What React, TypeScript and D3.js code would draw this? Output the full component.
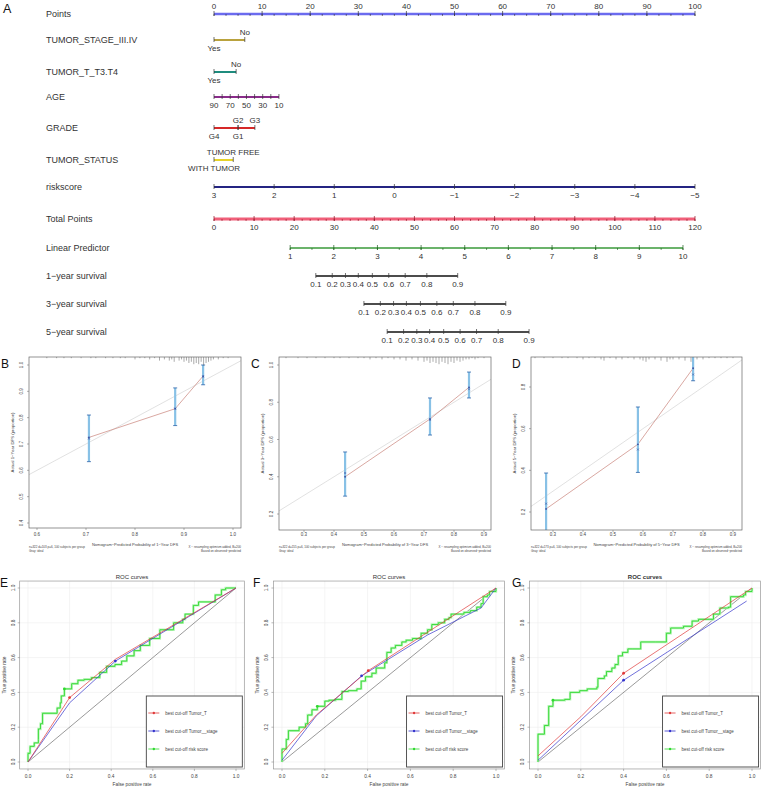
import React from 'react';
import * as d3 from 'd3';

const FONT = 'Liberation Sans, Arial, Helvetica, sans-serif';

// ---------- nomogram (panel A) ----------
const pointTicks = [0, 10, 20, 30, 40, 50, 60, 70, 80, 90, 100];
const stageLevels = ['Yes', 'No'];
const stagePoints = [0, 6.4];
const tLevels = ['Yes', 'No'];
const tPoints = [0, 4.6];
const ageTicks = [90, 80, 70, 60, 50, 40, 30, 20, 10];
const ageLabels = [90, 70, 50, 30, 10];
const gradeLevels = ['G4', 'G2', 'G1', 'G3'];
const gradePoints = [0, 5, 5, 8.5];
const statusLevels = ['WITH TUMOR', 'TUMOR FREE'];
const statusPoints = [0, 4];
const riskTicks = [3, 2, 1, 0, -1, -2, -3, -4, -5];
const totalTicks = [0, 10, 20, 30, 40, 50, 60, 70, 80, 90, 100, 110, 120];
const lpTicks = [1, 2, 3, 4, 5, 6, 7, 8, 9, 10];
const survTicks = [0.1, 0.2, 0.3, 0.4, 0.5, 0.6, 0.7, 0.8, 0.9];
// position of each survival tick on the Total Points scale
const surv1Total = [25.4, 29.5, 32.8, 36.0, 39.5, 43.6, 47.7, 53.1, 60.8];
const surv3Total = [37.4, 41.5, 44.8, 48.0, 51.5, 55.6, 59.7, 65.1, 72.8];
const surv5Total = [43.2, 47.3, 50.6, 53.8, 57.3, 61.4, 65.5, 70.9, 78.6];

// ---------- calibration (panels B, C, D) ----------
const calB = {
  pred: [0.706, 0.882, 0.939],
  obs: [0.725, 0.834, 0.958],
  corr: [0.72, 0.835, 0.955],
  lo: [0.633, 0.77, 0.925],
  hi: [0.81, 0.913, 1.0],
  rug: [[0.62,1],[0.64,1],[0.655,1],[0.67,1],[0.69,1],[0.71,1],[0.72,1],[0.74,1],[0.755,1],[0.77,1],[0.78,1],[0.8,2],[0.81,1],[0.82,1],[0.83,2],[0.84,1],[0.85,3],[0.86,2],[0.87,3],[0.875,2],[0.88,4],[0.89,3],[0.895,2],[0.9,4],[0.905,3],[0.91,5],[0.915,4],[0.92,6],[0.925,5],[0.93,6],[0.935,4],[0.94,7],[0.945,5],[0.95,4],[0.955,3],[0.96,2],[0.97,2],[0.98,1],[0.99,1]],
};
const calC = {
  pred: [0.437, 0.72, 0.85],
  obs: [0.40, 0.71, 0.88],
  corr: [0.42, 0.705, 0.87],
  lo: [0.296, 0.624, 0.823],
  hi: [0.533, 0.823, 0.962],
  rug: [[0.24,1],[0.28,1],[0.31,1],[0.34,1],[0.37,1],[0.4,1],[0.42,1],[0.45,1],[0.48,1],[0.5,1],[0.52,2],[0.54,1],[0.56,2],[0.58,1],[0.6,2],[0.62,2],[0.64,3],[0.66,2],[0.68,3],[0.7,4],[0.71,3],[0.72,5],[0.73,4],[0.74,5],[0.75,6],[0.76,4],[0.77,5],[0.78,6],[0.79,4],[0.8,5],[0.81,3],[0.82,4],[0.83,3],[0.84,2],[0.85,2],[0.86,1],[0.87,2],[0.88,1],[0.9,1]],
};
const calD = {
  pred: [0.277, 0.583, 0.767],
  obs: [0.215, 0.525, 0.89],
  corr: [0.24, 0.5, 0.86],
  lo: [0.05, 0.39, 0.83],
  hi: [0.387, 0.704, 0.98],
  rug: [[0.24,1],[0.27,1],[0.3,1],[0.33,1],[0.35,1],[0.38,1],[0.4,2],[0.42,1],[0.44,1],[0.46,2],[0.47,3],[0.49,1],[0.51,2],[0.53,2],[0.55,1],[0.57,2],[0.59,2],[0.6,3],[0.61,4],[0.62,2],[0.64,2],[0.66,3],[0.68,4],[0.69,2],[0.7,2],[0.72,2],[0.74,3],[0.76,4],[0.78,2],[0.8,2],[0.82,1],[0.84,1],[0.86,1],[0.88,1],[0.9,1]],
};

// ---------- ROC (panels E, F, G) ----------
const rocTicks = [0, 0.2, 0.4, 0.6, 0.8, 1.0];
const legendNames = ['best cut-off Tumor_T', 'best cut-off Tumor__stage', 'best cut-off risk score'];

const rocE = {
  red: [[0,0],[0.2,0.37],[0.42,0.59],[1,1]],
  blue: [[0,0],[0.2,0.34],[0.42,0.58],[1,1]],
  green: [[0,0],[0,0.05],[0.01,0.09],[0.03,0.11],[0.05,0.13],[0.05,0.19],[0.06,0.22],[0.07,0.28],[0.12,0.28],[0.14,0.31],[0.155,0.34],[0.16,0.38],[0.175,0.42],[0.21,0.45],[0.24,0.47],[0.27,0.475],[0.305,0.485],[0.345,0.515],[0.378,0.55],[0.418,0.56],[0.45,0.58],[0.475,0.61],[0.51,0.64],[0.54,0.67],[0.585,0.71],[0.634,0.76],[0.7,0.8],[0.744,0.82],[0.755,0.85],[0.795,0.9],[0.82,0.92],[0.9,0.96],[0.93,0.99],[0.95,1],[1,1]],
  cut: [[0.2,0.37],[0.42,0.58],[0.175,0.42]],
};
const rocF = {
  red: [[0,0.05],[0.16,0.27],[0.403,0.525],[1,1]],
  blue: [[0,0.01],[0.16,0.265],[0.372,0.495],[0.68,0.73],[0.93,0.885],[1,1]],
  green: [[0,0],[0,0.075],[0.02,0.08],[0.02,0.13],[0.03,0.18],[0.07,0.18],[0.08,0.2],[0.11,0.22],[0.12,0.27],[0.14,0.3],[0.165,0.32],[0.2,0.35],[0.22,0.355],[0.25,0.36],[0.28,0.405],[0.31,0.41],[0.35,0.42],[0.37,0.465],[0.39,0.49],[0.42,0.51],[0.44,0.54],[0.48,0.57],[0.49,0.63],[0.51,0.655],[0.53,0.67],[0.56,0.69],[0.58,0.7],[0.61,0.71],[0.65,0.74],[0.68,0.76],[0.7,0.79],[0.73,0.8],[0.76,0.82],[0.78,0.83],[0.79,0.85],[0.83,0.85],[0.85,0.86],[0.88,0.87],[0.91,0.89],[0.93,0.91],[0.94,0.95],[0.96,0.96],[0.97,0.98],[1,1]],
  cut: [[0.403,0.525],[0.372,0.495],[0.165,0.32]],
};
const rocG = {
  red: [[0,0.035],[0.2,0.26],[0.4,0.51],[1,1]],
  blue: [[0,0.01],[0.4,0.47],[0.975,0.925]],
  green: [[0,0],[0,0.16],[0.03,0.16],[0.03,0.21],[0.05,0.21],[0.05,0.32],[0.07,0.325],[0.07,0.355],[0.125,0.36],[0.15,0.37],[0.15,0.4],[0.195,0.41],[0.23,0.42],[0.275,0.43],[0.28,0.48],[0.31,0.495],[0.32,0.52],[0.345,0.54],[0.36,0.56],[0.375,0.61],[0.395,0.63],[0.42,0.65],[0.44,0.65],[0.48,0.69],[0.55,0.69],[0.6,0.69],[0.6,0.74],[0.62,0.77],[0.68,0.78],[0.72,0.81],[0.75,0.82],[0.8,0.82],[0.82,0.85],[0.85,0.885],[0.89,0.89],[0.9,0.95],[0.96,0.96],[0.97,0.98],[1,1]],
  cut: [[0.4,0.51],[0.4,0.47],[0.07,0.355]],
};

type Lab = { x: number; text: string; above: boolean };

// one horizontal scale of the nomogram
function NomoLine({ y, x0, x1, color, w, majors, minors = [], labels, tick = '#333' }:
  { y: number; x0: number; x1: number; color: string; w: number; majors: number[]; minors?: number[]; labels: Lab[]; tick?: string }) {
  return (
    <g>
      <line x1={x0} x2={x1} y1={y} y2={y} stroke={color} strokeWidth={w} />
      {minors.map((x, i) => <line key={'m' + i} x1={x} x2={x} y1={y} y2={y + 2} stroke={tick} strokeWidth={0.6} />)}
      {majors.map((x, i) => <line key={'M' + i} x1={x} x2={x} y1={y - 3} y2={y + 2} stroke={tick} strokeWidth={0.7} />)}
      {labels.map((l, i) => (
        <text key={'l' + i} x={l.x} y={l.above ? y - 5 : y + 11} textAnchor="middle" fontSize={8} fill="#333">{l.text}</text>
      ))}
    </g>
  );
}

function Nomogram() {
  const px = d3.scaleLinear().domain([0, 100]).range([214, 695]);
  const tx = d3.scaleLinear().domain([0, 120]).range([214, 695]);
  const ageToPts = d3.scaleLinear().domain([90, 10]).range([0, 13.5]);
  const riskToPts = d3.scaleLinear().domain([3, -5]).range([0, 100]);
  const lpToTotal = d3.scaleLinear().domain([1, 10]).range([19, 117]);

  const factor = (levels: string[], pts: number[]) =>
    levels.map((t, i) => ({ x: px(pts[i]), text: t, above: i % 2 === 1 }));

  const rows = [
    { name: 'Points', y: 14 },
    { name: 'TUMOR_STAGE_III.IV', y: 40 },
    { name: 'TUMOR_T_T3.T4', y: 72 },
    { name: 'AGE', y: 97 },
    { name: 'GRADE', y: 128 },
    { name: 'TUMOR_STATUS', y: 160 },
    { name: 'riskscore', y: 187 },
    { name: 'Total Points', y: 219 },
    { name: 'Linear Predictor', y: 248 },
    { name: '1\u2212year survival', y: 276 },
    { name: '3\u2212year survival', y: 304 },
    { name: '5\u2212year survival', y: 332 },
  ];
  const fmt = (v: number) => (v < 0 ? '\u2212' + Math.abs(v) : String(v));
  const surv = (pos: number[], y: number) => (
    <NomoLine y={y} x0={tx(pos[0])} x1={tx(pos[pos.length - 1])} color="#111" w={1.6}
      majors={pos.map(p => tx(p))}
      labels={survTicks.map((s, i) => ({ x: tx(pos[i]), text: String(s), above: false }))} />
  );

  return (
    <g>
      <text x={3} y={13} fontSize={12.5} fill="#111">A</text>
      {rows.map(r => (
        <text key={r.name} x={46} y={r.y + 3} fontSize={9} fill="#333">{r.name}</text>
      ))}
      <NomoLine y={14} x0={px(0)} x1={px(100)} color="#6b6bef" w={2.6}
        majors={pointTicks.map(px)} minors={d3.range(0, 100.1, 2.5).map(px)}
        labels={pointTicks.map(t => ({ x: px(t), text: String(t), above: true }))} />
      <NomoLine y={40} x0={px(0)} x1={px(stagePoints[1])} color="#b9a23e" w={2}
        majors={stagePoints.map(px)} labels={factor(stageLevels, stagePoints)} />
      <NomoLine y={72} x0={px(0)} x1={px(tPoints[1])} color="#1e8c7e" w={2}
        majors={tPoints.map(px)} labels={factor(tLevels, tPoints)} />
      <NomoLine y={97} x0={px(0)} x1={px(ageToPts(10))} color="#8a2c8a" w={2}
        majors={ageTicks.map(a => px(ageToPts(a)))}
        labels={ageLabels.map(a => ({ x: px(ageToPts(a)), text: String(a), above: false }))} />
      <NomoLine y={128} x0={px(0)} x1={px(8.5)} color="#d62828" w={2.2}
        majors={gradePoints.map(px)} labels={factor(gradeLevels, gradePoints)} />
      <NomoLine y={160} x0={px(0)} x1={px(statusPoints[1])} color="#e6d32a" w={2}
        majors={statusPoints.map(px)} labels={factor(statusLevels, statusPoints)} />
      <NomoLine y={187} x0={px(0)} x1={px(100)} color="#242482" w={1.8}
        majors={riskTicks.map(r => px(riskToPts(r)))}
        labels={riskTicks.map(r => ({ x: px(riskToPts(r)), text: fmt(r), above: false }))} />
      <NomoLine y={219} x0={tx(0)} x1={tx(120)} color="#f0607a" w={3} tick="#8a1020"
        majors={totalTicks.map(tx)} minors={d3.range(0, 120.1, 2).map(tx)}
        labels={totalTicks.map(t => ({ x: tx(t), text: String(t), above: false }))} />
      <NomoLine y={248} x0={tx(lpToTotal(1))} x1={tx(lpToTotal(10))} color="#3a9a3a" w={1.4} tick="#1a5a1a"
        majors={lpTicks.map(l => tx(lpToTotal(l)))} minors={d3.range(1, 10.01, 0.5).map(l => tx(lpToTotal(l)))}
        labels={lpTicks.map(l => ({ x: tx(lpToTotal(l)), text: String(l), above: false }))} />
      {surv(surv1Total, 276)}
      {surv(surv3Total, 304)}
      {surv(surv5Total, 332)}
    </g>
  );
}

type CalData = { pred: number[]; obs: number[]; corr: number[]; lo: number[]; hi: number[]; rug: number[][] };

function Calib({ id, letter, lx, box, xDom, xRng, yDom, yRng, xTicks, yTicks, data, yr, nText }:
  { id: string; letter: string; lx: number; box: number[]; xDom: number[]; xRng: number[]; yDom: number[]; yRng: number[];
    xTicks: number[]; yTicks: number[]; data: CalData; yr: number; nText: string }) {
  const x = d3.scaleLinear().domain(xDom).range(xRng);
  const y = d3.scaleLinear().domain(yDom).range(yRng);
  const [bx0, by0, bx1, by1] = box;
  const v0 = Math.min(x.invert(bx0), y.invert(by1));
  const v1 = Math.max(x.invert(bx1), y.invert(by0));
  const line = d3.line<number>().x((_, i) => x(data.pred[i])).y(d => y(d));
  const cx = (bx0 + bx1) / 2;
  return (
    <g>
      <defs>
        <clipPath id={id}><rect x={bx0} y={by0} width={bx1 - bx0} height={by1 - by0} /></clipPath>
      </defs>
      <text x={lx} y={368} fontSize={12} fill="#111">{letter}</text>
      <g clipPath={`url(#${id})`}>
        <line x1={x(v0)} y1={y(v0)} x2={x(v1)} y2={y(v1)} stroke="#d4d4d4" strokeWidth={0.7} />
        <path d={line(data.obs) || ''} fill="none" stroke="#c9837a" strokeWidth={0.7} />
        {data.pred.map((p, i) => (
          <g key={i}>
            <line x1={x(p)} x2={x(p)} y1={y(data.lo[i])} y2={y(data.hi[i])} stroke="#88c1e6" strokeWidth={2.2} />
            <line x1={x(p) - 2} x2={x(p) + 2} y1={y(data.lo[i])} y2={y(data.lo[i])} stroke="#2b62a8" strokeWidth={0.8} />
            <line x1={x(p) - 2} x2={x(p) + 2} y1={y(data.hi[i])} y2={y(data.hi[i])} stroke="#2b62a8" strokeWidth={0.8} />
            <circle cx={x(p)} cy={y(data.obs[i])} r={0.9} fill="#3b4fa0" />
            <path d={`M${x(p) - 1},${y(data.corr[i]) - 1}L${x(p) + 1},${y(data.corr[i]) + 1}M${x(p) - 1},${y(data.corr[i]) + 1}L${x(p) + 1},${y(data.corr[i]) - 1}`}
              stroke="#3b4fa0" strokeWidth={0.5} />
          </g>
        ))}
      </g>
      {data.rug.map(([v, c], i) => (
        <line key={i} x1={x(v)} x2={x(v)} y1={by0} y2={by0 + c * 1.2} stroke="#555" strokeWidth={0.5} />
      ))}
      <rect x={bx0} y={by0} width={bx1 - bx0} height={by1 - by0} fill="none" stroke="#666" strokeWidth={0.7} />
      {xTicks.map(t => (
        <g key={'x' + t}>
          <line x1={x(t)} x2={x(t)} y1={by1} y2={by1 + 2} stroke="#666" strokeWidth={0.5} />
          <text x={x(t)} y={536} fontSize={4.5} textAnchor="middle" fill="#444">{t.toFixed(1)}</text>
        </g>
      ))}
      {yTicks.map(t => (
        <g key={'y' + t}>
          <line x1={bx0 - 2} x2={bx0} y1={y(t)} y2={y(t)} stroke="#666" strokeWidth={0.5} />
          <text transform={`translate(${bx0 - 6},${y(t)}) rotate(-90)`} fontSize={4.5} textAnchor="middle" fill="#444">{t.toFixed(1)}</text>
        </g>
      ))}
      <text transform={`translate(${bx0 - 15},${(by0 + by1) / 2}) rotate(-90)`} fontSize={4.3} textAnchor="middle" fill="#444">
        {`Actual ${yr}\u2212Year DFS (proportion)`}
      </text>
      <text x={cx} y={546} fontSize={4} textAnchor="middle" fill="#444">{`Nomogram\u2212Predicted Probability of ${yr}\u2212Year DFS`}</text>
      <text x={bx0} y={548} fontSize={3} fill="#444">{nText}</text>
      <text x={bx0} y={552} fontSize={3} fill="#444">Gray: ideal</text>
      <text x={bx1} y={548} fontSize={3} textAnchor="end" fill="#444">{'X \u2212 resampling optimism added, B=200'}</text>
      <text x={bx1} y={552} fontSize={3} textAnchor="end" fill="#444">{'Based on observed\u2212predicted'}</text>
    </g>
  );
}

type RocData = { red: number[][]; blue: number[][]; green: number[][]; cut: number[][] };

function Roc({ letter, lx, x0, x1, data, bold }: { letter: string; lx: number; x0: number; x1: number; data: RocData; bold?: boolean }) {
  const x = d3.scaleLinear().domain([0, 1]).range([x0, x1]);
  const y = d3.scaleLinear().domain([0, 1]).range([762, 588]);
  const bx0 = x(-0.04), bx1 = x(1.04), by0 = y(1.04), by1 = y(-0.04);
  const line = d3.line<number[]>().x(d => x(d[0])).y(d => y(d[1]));
  const step = d3.line<number[]>().x(d => x(d[0])).y(d => y(d[1])).curve(d3.curveStepAfter);
  const colors = ['#e03a3a', '#3434cc', '#2fd82f'];
  const lgx = bx1 - 98, lgy = 696;
  return (
    <g>
      <text x={lx} y={587} fontSize={12} fill="#111">{letter}</text>
      <text x={(bx0 + bx1) / 2} y={579} fontSize={6} textAnchor="middle" fontWeight={bold ? 'bold' : 'normal'} fill="#333">ROC curves</text>
      {rocTicks.map(t => (
        <g key={'g' + t}>
          <line x1={x(t)} x2={x(t)} y1={by0} y2={by1} stroke="#ececec" strokeWidth={0.6} />
          <line x1={bx0} x2={bx1} y1={y(t)} y2={y(t)} stroke="#ececec" strokeWidth={0.6} />
        </g>
      ))}
      <line x1={x(0)} y1={y(0)} x2={x(1)} y2={y(1)} stroke="#555" strokeWidth={0.6} />
      <path d={step(data.green) || ''} fill="none" stroke="#b8f5b8" strokeWidth={2.4} />
      <path d={step(data.green) || ''} fill="none" stroke={colors[2]} strokeWidth={0.9} />
      <path d={line(data.blue) || ''} fill="none" stroke={colors[1]} strokeWidth={0.7} />
      <path d={line(data.red) || ''} fill="none" stroke={colors[0]} strokeWidth={0.7} />
      {data.cut.map((c, i) => <circle key={i} cx={x(c[0])} cy={y(c[1])} r={1.4} fill={colors[i]} />)}
      <rect x={bx0} y={by0} width={bx1 - bx0} height={by1 - by0} fill="none" stroke="#999" strokeWidth={0.7} />
      {rocTicks.map(t => (
        <g key={'t' + t}>
          <line x1={x(t)} x2={x(t)} y1={by1} y2={by1 + 2} stroke="#777" strokeWidth={0.5} />
          <text x={x(t)} y={778} fontSize={4.8} textAnchor="middle" fill="#444">{t.toFixed(1)}</text>
          <line x1={bx0 - 2} x2={bx0} y1={y(t)} y2={y(t)} stroke="#777" strokeWidth={0.5} />
          <text transform={`translate(${bx0 - 5},${y(t)}) rotate(-90)`} fontSize={4.8} textAnchor="middle" fill="#444">{t.toFixed(1)}</text>
        </g>
      ))}
      <text x={(bx0 + bx1) / 2} y={786} fontSize={4.8} textAnchor="middle" fill="#444">False positive rate</text>
      <text transform={`translate(${bx0 - 14},${(by0 + by1) / 2}) rotate(-90)`} fontSize={4.8} textAnchor="middle" fill="#444">True positive rate</text>
      <rect x={lgx} y={lgy} width={96} height={71} fill="#fff" stroke="#444" strokeWidth={0.9} />
      {legendNames.map((n, i) => (
        <g key={n}>
          <line x1={lgx + 2} x2={lgx + 13} y1={lgy + 17 + i * 18} y2={lgy + 17 + i * 18} stroke={colors[i]} strokeWidth={0.8} />
          <circle cx={lgx + 7.5} cy={lgy + 17 + i * 18} r={1.2} fill={colors[i]} />
          <text x={lgx + 19} y={lgy + 18.5 + i * 18} fontSize={4.5} fill="#444">{n}</text>
        </g>
      ))}
    </g>
  );
}

const App = () => (
  <svg width={764} height={790} style={{ position: 'absolute', left: 0, top: 0 }} fontFamily={FONT}>
    <rect width={764} height={790} fill="#fff" />
    <Nomogram />
    <Calib id="clipB" letter="B" lx={1} box={[29, 357, 241, 528]} xDom={[0.6, 1.0]} xRng={[37, 233]}
      yDom={[0.4, 1.0]} yRng={[523, 365]} xTicks={[0.6, 0.7, 0.8, 0.9, 1.0]} yTicks={[0.4, 0.5, 0.6, 0.7, 0.8, 0.9, 1.0]}
      data={calB} yr={1} nText="n=322 d=103 p=6, 100 subjects per group" />
    <Calib id="clipC" letter="C" lx={251} box={[279, 357, 491, 530]} xDom={[0.3, 0.9]} xRng={[304, 484]}
      yDom={[0.2, 1.0]} yRng={[514, 365]} xTicks={[0.3, 0.4, 0.5, 0.6, 0.7, 0.8, 0.9]} yTicks={[0.2, 0.4, 0.6, 0.8, 1.0]}
      data={calC} yr={3} nText="n=322 d=155 p=6, 100 subjects per group" />
    <Calib id="clipD" letter="D" lx={512} box={[531, 357, 742, 530]} xDom={[0.3, 0.9]} xRng={[553, 733]}
      yDom={[0.2, 0.8]} yRng={[512, 387]} xTicks={[0.3, 0.4, 0.5, 0.6, 0.7, 0.8, 0.9]} yTicks={[0.2, 0.4, 0.6, 0.8]}
      data={calD} yr={5} nText="n=322 d=173 p=6, 100 subjects per group" />
    <Roc letter="E" lx={0} x0={28} x1={236} data={rocE} />
    <Roc letter="F" lx={253} x0={282} x1={496} data={rocF} />
    <Roc letter="G" lx={512} x0={538} x1={752} data={rocG} bold />
  </svg>
);

export default App;
